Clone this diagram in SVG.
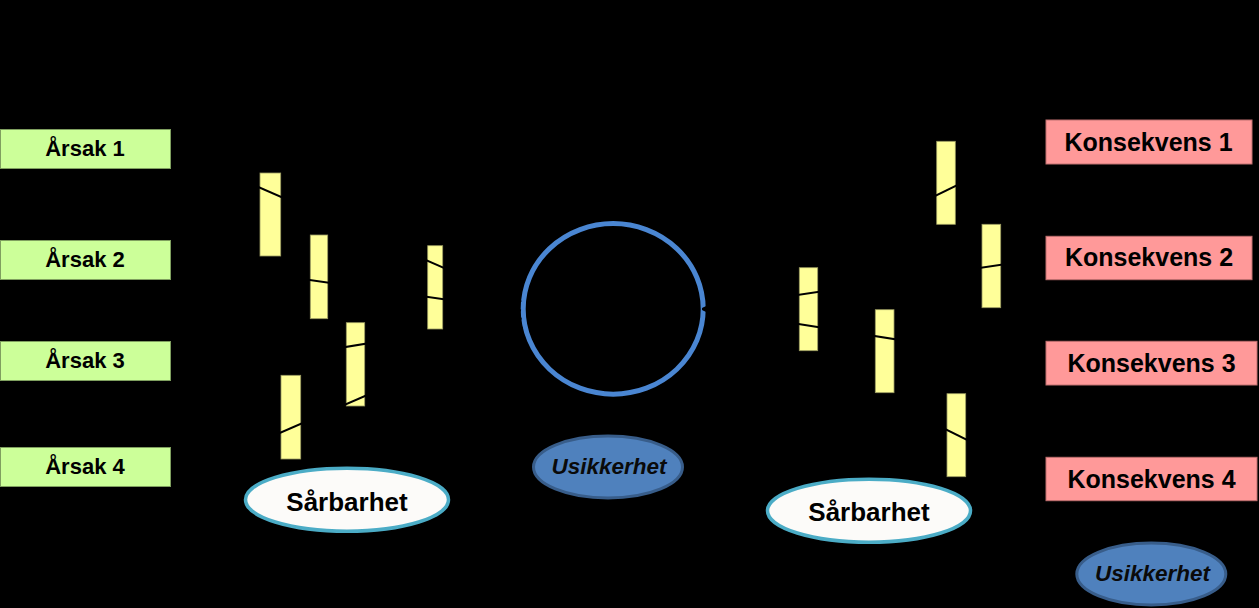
<svg xmlns="http://www.w3.org/2000/svg" width="1259" height="608" viewBox="0 0 1259 608">
<style>
.bg{fill:#000}
.cause{fill:#ccff99;stroke:#7f9f5f;stroke-width:1}
.cons{fill:#ff9999;stroke:#c07070;stroke-width:1}
.bar{fill:#ffff99;stroke:#9a9a60;stroke-width:0.8}
.t{font-family:"Liberation Sans",Arial,sans-serif;font-weight:bold;fill:#000;text-anchor:middle}
.tc{font-size:22px}
.tk{font-size:25px}
.ts{font-size:26px}
.tu{font-size:22.5px;font-style:italic;fill:#0a0a0a}
.vul{fill:#fcfbf9;stroke:#4bacc6;stroke-width:3.5}
.unc{fill:#4f81bd;stroke:#385d8a;stroke-width:3}
.top{fill:none;stroke:#4a86d2;stroke-width:5}
.con{fill:none;stroke:#000;stroke-width:2}
</style>
<rect class="bg" x="0" y="0" width="1259" height="608"/>
<g id="arsak1"><rect class="cause" x="0.5" y="129.5" width="170" height="39"/><text class="t tc" x="85" y="156">Årsak 1</text></g>
<g id="arsak2"><rect class="cause" x="0.5" y="240.5" width="170" height="39"/><text class="t tc" x="85" y="267">Årsak 2</text></g>
<g id="arsak3"><rect class="cause" x="0.5" y="341.5" width="170" height="39"/><text class="t tc" x="85" y="367.5">Årsak 3</text></g>
<g id="arsak4"><rect class="cause" x="0.5" y="447.5" width="170" height="39"/><text class="t tc" x="85" y="473.5">Årsak 4</text></g>
<g id="konsekvens1"><rect class="cons" x="1046" y="120" width="206" height="44"/><text class="t tk" x="1148.5" y="150.7">Konsekvens 1</text></g>
<g id="konsekvens2"><rect class="cons" x="1046" y="236.3" width="206" height="43.4"/><text class="t tk" x="1149" y="265.7">Konsekvens 2</text></g>
<g id="konsekvens3"><rect class="cons" x="1046" y="341.3" width="211" height="43.7"/><text class="t tk" x="1151.5" y="371.7">Konsekvens 3</text></g>
<g id="konsekvens4"><rect class="cons" x="1046" y="457.3" width="211" height="43.4"/><text class="t tk" x="1151.5" y="487.7">Konsekvens 4</text></g>
<g id="barriere-a"><rect class="bar" x="260" y="173" width="20.7" height="83"/></g>
<g id="barriere-b"><rect class="bar" x="310.3" y="235" width="17.4" height="83.7"/></g>
<g id="barriere-c"><rect class="bar" x="427.7" y="245.7" width="15" height="83.3"/></g>
<g id="barriere-d"><rect class="bar" x="346.3" y="322.7" width="18.4" height="83.3"/></g>
<g id="barriere-e"><rect class="bar" x="281" y="375.3" width="19.7" height="83.7"/></g>
<g id="barriere-f"><rect class="bar" x="936.7" y="141.3" width="18.6" height="83"/></g>
<g id="barriere-g"><rect class="bar" x="982" y="224.3" width="18.7" height="83.4"/></g>
<g id="barriere-h"><rect class="bar" x="799.3" y="267.7" width="18.4" height="83"/></g>
<g id="barriere-i"><rect class="bar" x="875.3" y="309.7" width="18.7" height="83"/></g>
<g id="barriere-j"><rect class="bar" x="947" y="393.7" width="18.7" height="83"/></g>
<g id="topphendelse"><ellipse class="top" cx="613.2" cy="308.9" rx="90" ry="85.3"/></g>
<g id="sarbarhet-venstre"><ellipse class="vul" cx="347" cy="499.7" rx="101.5" ry="31.5"/><text class="t ts" x="347" y="510.7">Sårbarhet</text></g>
<g id="usikkerhet-midt"><ellipse class="unc" cx="608" cy="467" rx="74.5" ry="31"/><text class="t tu" x="609" y="474.3">Usikkerhet</text></g>
<g id="sarbarhet-hoyre"><ellipse class="vul" cx="869" cy="510.7" rx="101.5" ry="31.5"/><text class="t ts" x="869" y="520.7">Sårbarhet</text></g>
<g id="usikkerhet-hoyre"><ellipse class="unc" cx="1151.3" cy="574" rx="74.5" ry="31"/><text class="t tu" x="1152.5" y="580.5">Usikkerhet</text></g>
<g id="connectors">
<line class="con" x1="172" y1="149.3" x2="521.3" y2="301.7"/>
<line class="con" x1="172" y1="260.1" x2="521" y2="310.4"/>
<line class="con" x1="172" y1="375.2" x2="521.6" y2="318.4"/>
<line class="con" x1="172" y1="479.8" x2="522.7" y2="327.6"/>
<line class="con" x1="702.5" y1="309" x2="1044.5" y2="142.7"/>
<line class="con" x1="702.5" y1="309" x2="1044.5" y2="258.2"/>
<line class="con" x1="702.5" y1="309" x2="1044.5" y2="362.8"/>
<line class="con" x1="702.5" y1="309" x2="1044.5" y2="478.3"/>
</g>
</svg>
